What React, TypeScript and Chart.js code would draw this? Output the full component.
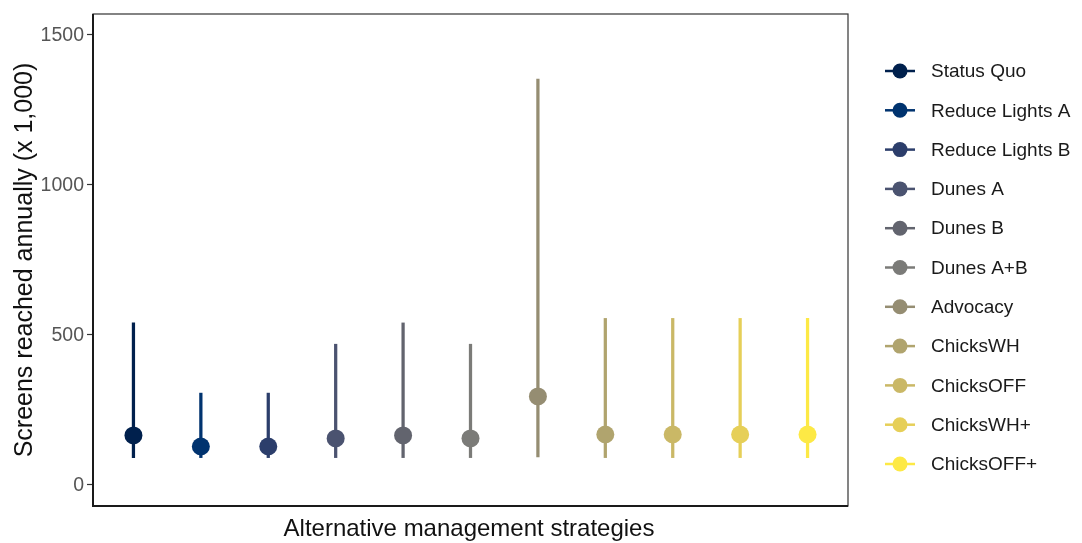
import React, { useEffect, useRef } from "react";
import { Chart, registerables } from "chart.js";

Chart.register(...registerables);

const categories = [
  "Status Quo",
  "Reduce Lights A",
  "Reduce Lights B",
  "Dunes A",
  "Dunes B",
  "Dunes A+B",
  "Advocacy",
  "ChicksWH",
  "ChicksOFF",
  "ChicksWH+",
  "ChicksOFF+",
];
const medianValues = [162, 125, 125, 152, 162, 152, 292, 165, 165, 165, 165];
const lowValues = [88, 88, 88, 88, 88, 88, 90, 88, 88, 88, 88];
const highValues = [537, 303, 303, 466, 537, 466, 1350, 552, 552, 552, 552];
const colors = [
  "#00204D",
  "#00336F",
  "#2C3E6B",
  "#4B5370",
  "#62646E",
  "#7B7B78",
  "#958D72",
  "#B0A46E",
  "#CAB866",
  "#E6CF58",
  "#FDE945",
];
const yTicks = [0, 500, 1000, 1500];
const xTitle = "Alternative management strategies";
const yTitle = "Screens reached annually (x 1,000)";

const FONT = "'Liberation Sans', Arial, sans-serif";

const decorPlugin = {
  id: "decor",
  afterDraw(chart: any) {
    const { ctx, chartArea } = chart;
    const { left, right, top, bottom } = chartArea;
    ctx.save();
    // panel border
    ctx.strokeStyle = "#333333";
    ctx.lineWidth = 1.2;
    ctx.strokeRect(left, top, right - left, bottom - top);
    ctx.strokeStyle = "#1a1a1a";
    ctx.lineWidth = 2;
    ctx.beginPath();
    ctx.moveTo(left, top);
    ctx.lineTo(left, bottom);
    ctx.lineTo(right, bottom);
    ctx.stroke();

    // axis titles
    ctx.fillStyle = "#111111";
    ctx.font = `24px ${FONT}`;
    ctx.textAlign = "center";
    ctx.textBaseline = "alphabetic";
    ctx.fillText(xTitle, 461, 528);
    ctx.font = `25px ${FONT}`;
    ctx.save();
    ctx.translate(24, 252);
    ctx.rotate(-Math.PI / 2);
    ctx.fillText(yTitle, 0, 0);
    ctx.restore();

    // legend
    const x0 = 892;
    const y0 = 63;
    const step = 39.3;
    ctx.font = `19px ${FONT}`;
    ctx.textAlign = "left";
    ctx.textBaseline = "middle";
    categories.forEach((c, i) => {
      const y = y0 + i * step;
      ctx.strokeStyle = colors[i];
      ctx.lineWidth = 2.5;
      ctx.beginPath();
      ctx.moveTo(x0 - 15, y);
      ctx.lineTo(x0 + 15, y);
      ctx.stroke();
      ctx.fillStyle = colors[i];
      ctx.beginPath();
      ctx.arc(x0, y, 7.5, 0, Math.PI * 2);
      ctx.fill();
      ctx.fillStyle = "#1a1a1a";
      ctx.fillText(c, 923, y + 1);
    });
    ctx.restore();
  },
};

export default function App() {
  const ref = useRef<HTMLCanvasElement | null>(null);
  useEffect(() => {
    if (!ref.current) return;
    const chart = new Chart(ref.current, {
      type: "bar",
      data: {
        datasets: [
          {
            type: "scatter" as any,
            data: categories.map((_, i) => ({ x: i + 1, y: medianValues[i] })),
            pointRadius: 9,
            pointHoverRadius: 9,
            pointBackgroundColor: colors,
            pointBorderWidth: 0,
            borderWidth: 0,
            order: 0,
          } as any,
          {
            type: "bar",
            data: categories.map((_, i) => ({ x: i + 1, y: [lowValues[i], highValues[i]] })) as any,
            backgroundColor: colors,
            borderWidth: 0,
            barThickness: 2.6,
            order: 1,
          } as any,
        ],
      },
      options: {
        animation: false,
        responsive: false,
        maintainAspectRatio: false,
        layout: { autoPadding: false, padding: { left: 0, right: 226, top: 6, bottom: 0 } },
        plugins: { legend: { display: false }, tooltip: { enabled: false } },
        scales: {
          x: {
            type: "linear",
            min: 0.4,
            max: 11.6,
            offset: false,
            grid: { display: false },
            border: { display: false },
            ticks: { display: false },
            afterFit: (s: any) => {
              s.height = 37;
              s.paddingLeft = 0;
              s.paddingRight = 0;
            },
          },
          y: {
            type: "linear",
            min: -73.3,
            max: 1566.7,
            afterBuildTicks: (s: any) => {
              s.ticks = yTicks.map((v) => ({ value: v }));
            },
            grid: {
              drawOnChartArea: false,
              drawTicks: true,
              tickLength: 6,
              tickColor: "#333333",
              tickWidth: 1.2,
            },
            border: { display: false },
            ticks: {
              color: "#555555",
              font: { size: 19.5, family: FONT, lineHeight: 0.5 },
              padding: 3,
              labelOffset: 1.5,
              callback: (v: any) => String(v),
            },
            afterFit: (s: any) => {
              s.width = 85;
              s.paddingTop = 0;
              s.paddingBottom = 0;
            },
          },
        },
      },
      plugins: [decorPlugin],
    });
    return () => chart.destroy();
  }, []);
  return (
    <div style={{ width: 1066, height: 535 }}>
      <canvas ref={ref} width={1066} height={535} style={{ width: 1066, height: 535, display: "block" }} />
    </div>
  );
}
